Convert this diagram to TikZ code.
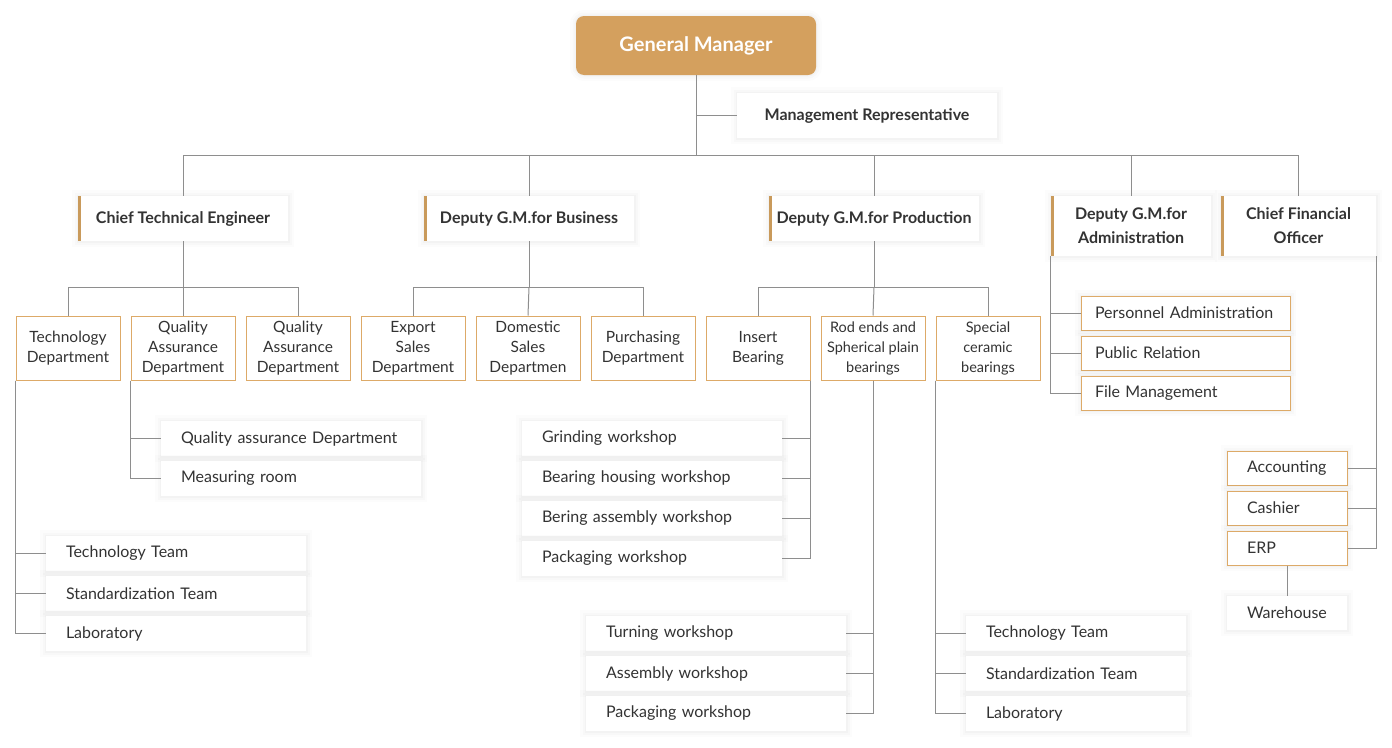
\documentclass[tikz,border=0pt]{standalone}
\usepackage{fontspec}
\setmainfont{Lato}
\definecolor{bossgold}{HTML}{D4A05E}
\definecolor{bargold}{HTML}{C99A5B}
\definecolor{unitgold}{HTML}{DDAA68}
\definecolor{linegray}{HTML}{8E8E8E}
\definecolor{ink}{HTML}{333333}
\tikzset{
  link/.style={draw=linegray, line width=1pt},
  softshadow/.style={preaction={draw=black, draw opacity=0.012, line width=12pt},
    preaction={draw=black, draw opacity=0.015, line width=7pt},
    preaction={draw=black, draw opacity=0.018, line width=3pt}},
  boss/.style={fill=bossgold, rounded corners=8pt, text=white, minimum width=240pt, minimum height=59pt,
    softshadow, font=\bfseries\fontsize{20}{22}\selectfont},
  head/.style={fill=white, softshadow, text=ink, align=center, inner sep=0pt, minimum height=45pt,
    font=\bfseries\fontsize{16}{24}\selectfont,
    path picture={\fill[bargold] (path picture bounding box.north west) rectangle ([xshift=3pt]path picture bounding box.south west);}},
  dept/.style={draw=unitgold, line width=1pt, fill=white, text=ink, align=center, inner sep=0pt,
    minimum width=104pt, minimum height=64pt, font=\fontsize{15.5}{20}\selectfont},
  task/.style={fill=white, softshadow, text=ink, align=left, inner xsep=20pt, inner ysep=0pt,
    minimum height=35pt, text width=220pt, font=\fontsize{16}{20}\selectfont},
  taskb/.style={task, draw=unitgold, line width=1pt},
}
\begin{document}
\begin{tikzpicture}[x=1pt,y=-1pt]
\useasboundingbox (0,0) rectangle (1392,747);
\fill[white] (0,0) rectangle (1392,747);

% Top
\node[boss] (gm) at (696,45.5) {General Manager};
\node[head, minimum width=260pt, path picture={}] (mrep) at (867,115.5) {Management Representative};
\coordinate (bus) at (696,155);

% Second level
\node[head, minimum width=210pt] (cte) at (183,218.5) {Chief Technical Engineer};
\node[head, minimum width=210pt] (biz) at (529,218.5) {Deputy G.M.for Business};
\node[head, minimum width=210pt] (prod) at (874,218.5) {Deputy G.M.for Production};
\node[head, minimum width=160pt, minimum height=60pt] (adm) at (1131,226) {Deputy G.M.for\\Administration};
\node[head, minimum width=155pt, minimum height=60pt] (cfo) at (1298.5,226) {Chief Financial\\Officer};

\draw[link] (gm.south) |- (mrep.west);
\foreach \n in {cte,biz,prod,adm,cfo}
  \draw[link] (gm.south) -- (bus) -| (\n.north);

% Departments
\node[dept] (tech) at (68,348) {Technology\\Department};
\node[dept] (qa1) at (183,348) {Quality\\Assurance\\Department};
\node[dept] (qa2) at (298,348) {Quality\\Assurance\\Department};
\node[dept] (export) at (413,348) {Export\\Sales\\Department};
\node[dept] (domestic) at (528,348) {Domestic\\Sales\\Departmen};
\node[dept] (purch) at (643,348) {Purchasing\\Department};
\node[dept] (insert) at (758,348) {Insert\\Bearing};
\node[dept, font=\fontsize{14.5}{20}\selectfont] (rod) at (873,348) {Rod ends and\\Spherical plain\\bearings};
\node[dept, font=\fontsize{14.5}{20}\selectfont] (special) at (988,348) {Special\\ceramic\\bearings};

\foreach \p/\a/\b/\c in {cte/tech/qa1/qa2, biz/export/domestic/purch, prod/insert/rod/special} {
  \draw[link] (\p.south) -- ++(0,46) coordinate (\p-fork);
  \draw[link] (\a.north) |- (\p-fork) -| (\c.north);
  \draw[link] (\p-fork) -- (\b.north);
}

% Quality assurance
\node[task] (qad) at (291,438.5) {Quality assurance Department};
\node[task] (meas) at (291,478.5) {Measuring room};
\foreach \n in {qad,meas}
  \draw[link] (qa1.south west) |- (\n.west);

% Technology department
\node[task] (tteam) at (176,553.5) {Technology Team};
\node[task] (steam) at (176,593.5) {Standardization Team};
\node[task] (lab) at (176,633.5) {Laboratory};
\foreach \n in {tteam,steam,lab}
  \draw[link] (tech.south west) |- (\n.west);

% Insert bearing
\node[task] (grind) at (652,438.5) {Grinding workshop};
\node[task] (housing) at (652,478.5) {Bearing housing workshop};
\node[task] (bering) at (652,518.5) {Bering assembly workshop};
\node[task] (pack) at (652,558.5) {Packaging workshop};
\foreach \n in {grind,housing,bering,pack}
  \draw[link] (insert.south east) |- (\n.east);

% Rod ends
\node[task] (turn) at (716,633.5) {Turning workshop};
\node[task] (assy) at (716,673.5) {Assembly workshop};
\node[task] (packb) at (716,713.5) {Packaging workshop};
\foreach \n in {turn,assy,packb}
  \draw[link] (rod.south) |- (\n.east);

% Special ceramic
\node[task, text width=180pt] (tteamb) at (1076,633.5) {Technology Team};
\node[task, text width=180pt] (steamb) at (1076,673.5) {Standardization Team};
\node[task, text width=180pt] (labb) at (1076,713.5) {Laboratory};
\foreach \n in {tteamb,steamb,labb}
  \draw[link] (special.south west) |- (\n.west);

% Administration
\node[taskb, inner xsep=14pt, text width=181pt, minimum height=34pt] (pers) at (1185.5,313) {Personnel Administration};
\node[taskb, inner xsep=14pt, text width=181pt, minimum height=34pt] (pr) at (1185.5,353) {Public Relation};
\node[taskb, inner xsep=14pt, text width=181pt, minimum height=34pt] (file) at (1185.5,393) {File Management};
\foreach \n in {pers,pr,file}
  \draw[link] (adm.south west) |- (\n.west);

% Finance
\node[taskb, text width=80pt, minimum height=34pt] (acct) at (1287,468) {Accounting};
\node[taskb, text width=80pt, minimum height=34pt] (cash) at (1287,508) {Cashier};
\node[taskb, text width=80pt, minimum height=34pt] (erp) at (1287,548) {ERP};
\foreach \n in {acct,cash,erp}
  \draw[link] (cfo.south east) |- (\n.east);
\node[task, text width=80pt, minimum height=34pt] (ware) at (1287,613) {Warehouse};
\draw[link] (erp) -- (ware);
\end{tikzpicture}
\end{document}
